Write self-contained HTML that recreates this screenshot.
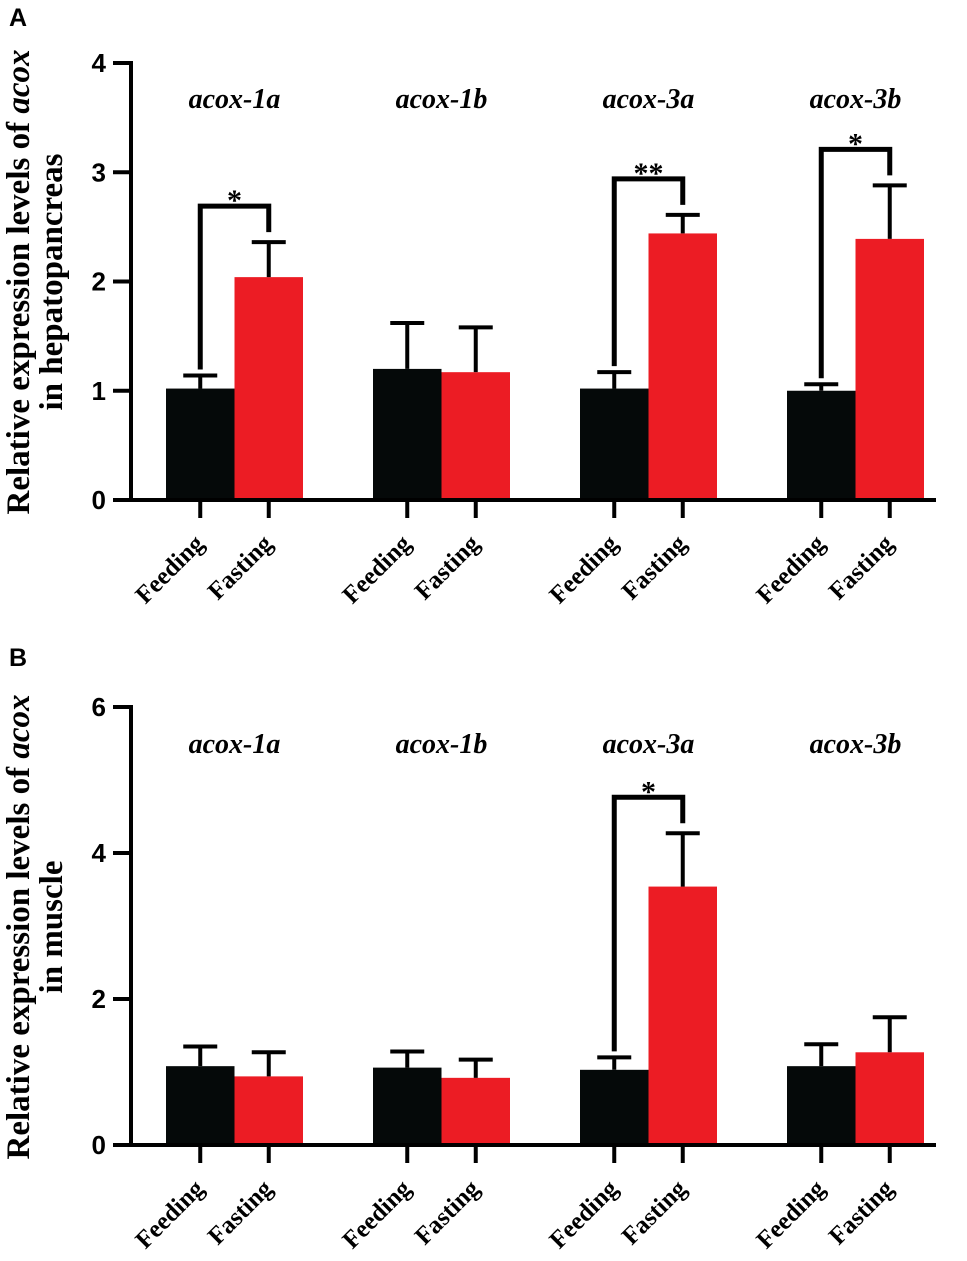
<!DOCTYPE html>
<html><head><meta charset="utf-8"><style>
body{margin:0;background:#fff}
svg{display:block}
text{font-family:"Liberation Serif",serif;font-weight:bold}
</style></head><body>
<svg id="chart" width="967" height="1261"></svg>
<script>
const genes=["acox-1a","acox-1b","acox-3a","acox-3b"];
const groups=["Feeding","Fasting"];
const hepFeed=[1.02,1.2,1.02,1.0];
const hepFeedErr=[0.12,0.42,0.15,0.06];
const hepFast=[2.04,1.17,2.44,2.39];
const hepFastErr=[0.32,0.41,0.17,0.49];
const hepSig=["*","","**","*"];
const musFeed=[1.08,1.06,1.03,1.08];
const musFeedErr=[0.27,0.22,0.17,0.3];
const musFast=[0.94,0.92,3.54,1.27];
const musFastErr=[0.33,0.25,0.73,0.48];
const musSig=["","","*",""];
const hepTicks=[0,1,2,3,4];
const musTicks=[0,2,4,6];

const NS="http://www.w3.org/2000/svg";
const svg=document.getElementById("chart");
function mk(tag,attrs,parent){const e=document.createElementNS(NS,tag);for(const k in attrs)e.setAttribute(k,attrs[k]);(parent||svg).appendChild(e);return e;}

function panel(cfg){
  const g=mk("g",{});
  
  
  const y=v=>cfg.y0-(v/cfg.max)*(cfg.y0-cfg.yTop);
  const groupStart=[166,373,580,787], bw=68.5;
  const L=mk("text",{x:9,y:cfg.letterY,"font-size":25,style:"font-family:'Liberation Sans',sans-serif"},g);L.textContent=cfg.letter;
  
  
  const t=mk("text",{transform:`translate(29,${cfg.titleY}) rotate(-90)`,"font-size":33,"text-anchor":"middle"},g);
  
  
  const s1=mk("tspan",{x:0,dy:0},t);s1.innerHTML='Relative expression levels of <tspan font-style="italic">acox</tspan>';
  const s2=mk("tspan",{x:0,dy:33},t);s2.textContent=cfg.title2;
  for(let i=0;i<4;i++){
    const vals=[cfg.feed[i],cfg.fast[i]],errs=[cfg.feedErr[i],cfg.fastErr[i]];
    for(let j=0;j<2;j++){
      const x=groupStart[i]+j*bw, top=y(vals[j]);
      const r=mk("rect",{x:x,y:top,width:bw,height:cfg.y0-top,fill:j?"#ec1c24":"#050909"},g);
      
      
      const cx=x+bw/2, et=y(vals[j]+errs[j]);
      const e=mk("path",{d:`M${cx},${top}V${et}M${cx-17},${et}H${cx+17}`,stroke:"#000","stroke-width":4,fill:"none"},g);
      
      
      const tk=mk("line",{x1:cx,x2:cx,y1:cfg.y0,y2:cfg.y0+18,stroke:"#000","stroke-width":4},g);
      
      
      const lb=mk("text",{transform:`translate(${cx+5},${cfg.y0+45}) rotate(-45)`,"font-size":25,"text-anchor":"end"},g);
      lb.textContent=groups[j];
      
      
    }
    const gl=mk("text",{x:groupStart[i]+bw,y:cfg.geneY,"font-size":28,"font-style":"italic","text-anchor":"middle"},g);
    gl.textContent=genes[i];
    
    
    if(cfg.sig[i]){
      const x1=groupStart[i]+bw/2,x2=groupStart[i]+bw*1.5;
      const b1=y(cfg.feed[i]+cfg.feedErr[i])-6,b2=y(cfg.fast[i]+cfg.fastErr[i])-10;
      const top=Math.min(b1,b2)-cfg.brGap;
      const br=mk("path",{d:`M${x1},${b1}V${top}H${x2}V${b2}`,stroke:"#000","stroke-width":5,fill:"none"},g);
      
      
      const st=mk("text",{x:(x1+x2)/2,y:top+4,"font-size":30,"text-anchor":"middle","font-weight":"normal"},g);
      st.textContent=cfg.sig[i];
      
      
    }
  }
  const ax=mk("path",{d:`M131,${cfg.yTop-2}V${cfg.y0}H936`,stroke:"#000","stroke-width":4,fill:"none"},g);
  
  
  cfg.ticks.forEach(v=>{
    const tk=mk("line",{x1:113,x2:131,y1:y(v),y2:y(v),stroke:"#000","stroke-width":4},g);
    
    
    const tl=mk("text",{x:106,y:y(v)+9,"font-size":26,"text-anchor":"end",style:"font-family:'Liberation Sans',sans-serif"},g);
    tl.textContent=v;
    
    
  });
}
panel({name:"panel-a-hepatopancreas",letter:"A",letterY:26,y0:500,yTop:63,max:4,ticks:hepTicks,feed:hepFeed,feedErr:hepFeedErr,fast:hepFast,fastErr:hepFastErr,sig:hepSig,title2:"in hepatopancreas",titleY:282,geneY:108,brGap:26});
panel({name:"panel-b-muscle",letter:"B",letterY:666,y0:1145,yTop:707,max:6,ticks:musTicks,feed:musFeed,feedErr:musFeedErr,fast:musFast,fastErr:musFastErr,sig:musSig,title2:"in muscle",titleY:927,geneY:753,brGap:26});
</script>
</body></html>
